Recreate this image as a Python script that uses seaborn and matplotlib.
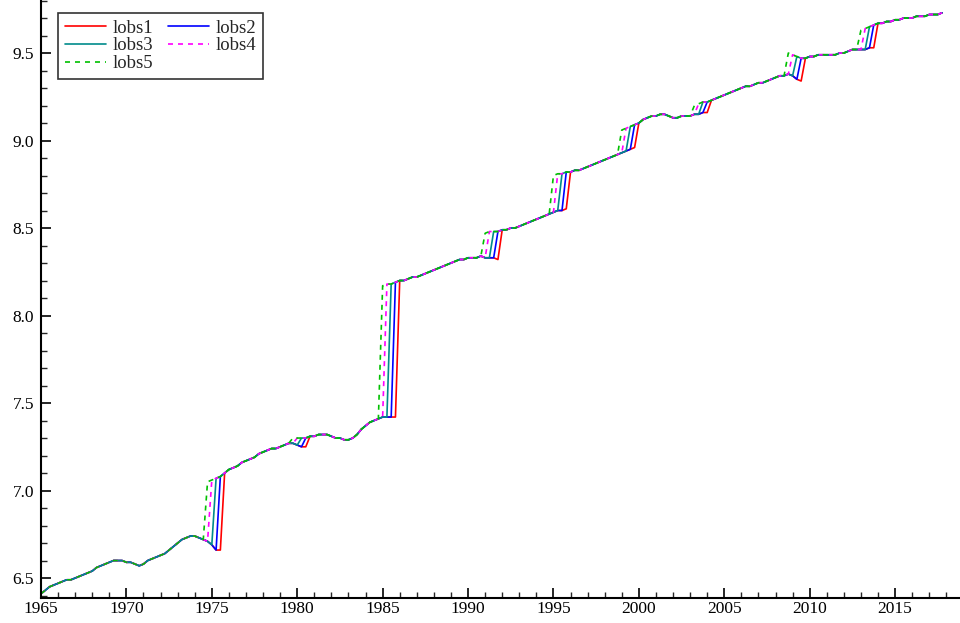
import numpy as np
import pandas as pd
import matplotlib
matplotlib.use("Agg")
import matplotlib.pyplot as plt
from matplotlib.ticker import MultipleLocator, FormatStrFormatter
import seaborn as sns

# -------------------------------
# DATA (quarterly, 1965Q1 - 2017Q4)
# -------------------------------
# path followed once a level shift has happened (= lobs5, earliest shift)
lead_path = [
    6.41, 6.43, 6.45, 6.46,   # 1965
    6.47, 6.48, 6.49, 6.49,   # 1966
    6.50, 6.51, 6.52, 6.53,   # 1967
    6.54, 6.56, 6.57, 6.58,   # 1968
    6.59, 6.60, 6.60, 6.60,   # 1969
    6.59, 6.59, 6.58, 6.57,   # 1970
    6.58, 6.60, 6.61, 6.62,   # 1971
    6.63, 6.64, 6.66, 6.68,   # 1972
    6.70, 6.72, 6.73, 6.74,   # 1973
    6.74, 6.73, 6.72, 7.05,   # 1974
    7.06, 7.07, 7.08, 7.10,   # 1975
    7.12, 7.13, 7.14, 7.16,   # 1976
    7.17, 7.18, 7.19, 7.21,   # 1977
    7.22, 7.23, 7.24, 7.24,   # 1978
    7.25, 7.26, 7.27, 7.30,   # 1979
    7.30, 7.30, 7.30, 7.31,   # 1980
    7.31, 7.32, 7.32, 7.32,   # 1981
    7.31, 7.30, 7.30, 7.29,   # 1982
    7.29, 7.30, 7.32, 7.35,   # 1983
    7.37, 7.39, 7.40, 7.41,   # 1984
    8.17, 8.18, 8.18, 8.19,   # 1985
    8.20, 8.20, 8.21, 8.22,   # 1986
    8.22, 8.23, 8.24, 8.25,   # 1987
    8.26, 8.27, 8.28, 8.29,   # 1988
    8.30, 8.31, 8.32, 8.32,   # 1989
    8.33, 8.33, 8.33, 8.34,   # 1990
    8.47, 8.48, 8.48, 8.48,   # 1991
    8.49, 8.49, 8.50, 8.50,   # 1992
    8.51, 8.52, 8.53, 8.54,   # 1993
    8.55, 8.56, 8.57, 8.58,   # 1994
    8.80, 8.81, 8.81, 8.82,   # 1995
    8.82, 8.83, 8.83, 8.84,   # 1996
    8.85, 8.86, 8.87, 8.88,   # 1997
    8.89, 8.90, 8.91, 8.92,   # 1998
    9.06, 9.07, 9.08, 9.09,   # 1999
    9.10, 9.12, 9.13, 9.14,   # 2000
    9.14, 9.15, 9.15, 9.14,   # 2001
    9.13, 9.13, 9.14, 9.14,   # 2002
    9.14, 9.20, 9.21, 9.22,   # 2003
    9.22, 9.23, 9.24, 9.25,   # 2004
    9.26, 9.27, 9.28, 9.29,   # 2005
    9.30, 9.31, 9.31, 9.32,   # 2006
    9.33, 9.33, 9.34, 9.35,   # 2007
    9.36, 9.37, 9.37, 9.50,   # 2008
    9.49, 9.48, 9.47, 9.47,   # 2009
    9.48, 9.48, 9.49, 9.49,   # 2010
    9.49, 9.49, 9.49, 9.50,   # 2011
    9.50, 9.51, 9.52, 9.52,   # 2012
    9.63, 9.64, 9.65, 9.66,   # 2013
    9.67, 9.67, 9.68, 9.68,   # 2014
    9.69, 9.69, 9.70, 9.70,   # 2015
    9.70, 9.71, 9.71, 9.71,   # 2016
    9.72, 9.72, 9.72, 9.73,   # 2017
]

# quarters where lobs5 shifts, and the pre-shift values for the next 4 quarters
break_dates = [1974.75, 1979.75, 1985.0, 1991.0, 1995.0, 1999.0, 2003.25, 2008.75, 2013.0]
pre_values = [
    [6.71, 6.69, 6.66, 6.66],
    [7.27, 7.26, 7.25, 7.25],
    [7.42, 7.42, 7.42, 7.42],
    [8.33, 8.33, 8.33, 8.32],
    [8.59, 8.60, 8.60, 8.61],
    [8.93, 8.94, 8.95, 8.96],
    [9.15, 9.15, 9.16, 9.16],
    [9.38, 9.37, 9.35, 9.34],
    [9.52, 9.52, 9.53, 9.53],
]

series_names = ["lobs1", "lobs2", "lobs3", "lobs4", "lobs5"]
lags = [4, 3, 2, 1, 0]   # quarters each series lags behind lobs5
colors = ["#ff0000", "#0000ff", "#008b8b", "#ff00ff", "#00c000"]
styles = ["-", "-", "-", "--", "--"]

dates = 1965 + np.arange(len(lead_path)) / 4.0

frames = []
for name, lag in zip(series_names, lags):
    vals = np.array(lead_path, dtype=float)
    for bd, pre in zip(break_dates, pre_values):
        i0 = int(round((bd - 1965) * 4))
        for k in range(lag):
            vals[i0 + k] = pre[k]
    frames.append(pd.DataFrame({"date": dates, "value": vals, "series": name}))
df = pd.concat(frames, ignore_index=True)

# -------------------------------
# PLOT
# -------------------------------
sns.set_style("ticks")
plt.rcParams["font.family"] = ["Liberation Serif", "DejaVu Serif"]

fig = plt.figure(figsize=(9.6, 6.23), dpi=100)
ax = fig.add_axes([41 / 960, 25 / 623, 919 / 960, 598 / 623])

handles = {}
for name, col, ls in zip(series_names, colors, styles):
    sub = df[df["series"] == name]
    sns.lineplot(data=sub, x="date", y="value", color=col, linewidth=1.2,
                 ax=ax, label=name)
    line = ax.get_lines()[-1]
    if ls == "--":
        line.set_dashes([3, 3])
    handles[name] = line

ax.set_xlim(1965, 2018.8)
ax.set_ylim(6.386, 9.803)
ax.set_xlabel("")
ax.set_ylabel("")

ax.xaxis.set_major_locator(MultipleLocator(5))
ax.xaxis.set_minor_locator(MultipleLocator(1))
ax.yaxis.set_major_locator(MultipleLocator(0.5))
ax.yaxis.set_minor_locator(MultipleLocator(0.1))
ax.yaxis.set_major_formatter(FormatStrFormatter("%.1f"))
ax.tick_params(which="major", direction="in", length=7, width=1.2, labelsize=12.5,
               colors="black")
ax.tick_params(which="minor", direction="in", length=4, width=1.0)
ax.tick_params(axis="x", pad=2)
ax.tick_params(axis="y", pad=5)

for s in ["top", "right"]:
    ax.spines[s].set_visible(False)
for s in ["left", "bottom"]:
    ax.spines[s].set_linewidth(1.5)
    ax.spines[s].set_color("black")

order = ["lobs1", "lobs3", "lobs5", "lobs2", "lobs4"]
leg = ax.legend([handles[n] for n in order], order, ncol=2, loc="upper left",
                bbox_to_anchor=((58 - 41) / 919, 1 - 13 / 598), borderaxespad=0,
                fontsize=13.5, frameon=True, fancybox=False, edgecolor="black",
                handlelength=2.2, handletextpad=0.35, columnspacing=0.8,
                labelspacing=0.03, borderpad=0.35)
leg.get_frame().set_linewidth(1.2)

fig.savefig("out.png", dpi=100)
